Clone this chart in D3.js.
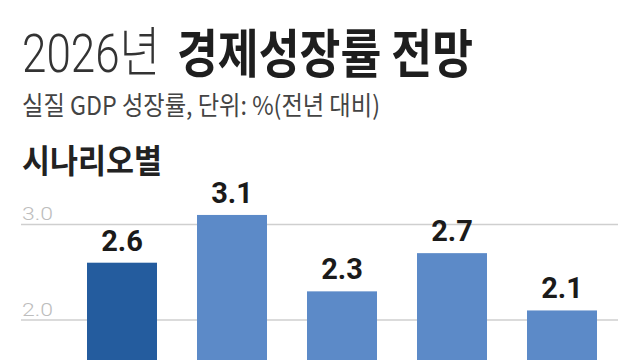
<!DOCTYPE html>
<html><head><meta charset="utf-8">
<script src="https://cdn.jsdelivr.net/npm/d3@7"></script>
<style>
html,body{margin:0;padding:0;background:#fff;}
svg{display:block;}
</style></head>
<body>
<svg id="chart" width="640" height="360"></svg>
<script>
const categories = ["기본", "낙관1", "비관1", "낙관2", "비관2"];
const values = [2.6, 3.1, 2.3, 2.7, 2.1];
const highlight = [true, false, false, false, false];
const tickValues = [2.0, 3.0];
const titleLight = "2026년";
const titleBold = "경제성장률 전망";
const subtitle = "실질 GDP 성장률, 단위: %(전년 대비)";
const sectionTitle = "시나리오별";

const svg = d3.select("#chart");
const W = 640, H = 360;
svg.append("rect").attr("width", W).attr("height", H).attr("fill", "#fff");

const kfont = "'Noto Sans CJK KR', 'Noto Sans', sans-serif";
const nfont = "Roboto, 'Noto Sans CJK KR', sans-serif";

// Title (light part)
svg.append("text").attr("x", 22).attr("y", 72)
  .attr("font-size", 54).attr("font-weight", 300).attr("fill", "#333")
  .attr("font-family", nfont)
  .attr("textLength", 138).attr("lengthAdjust", "spacingAndGlyphs")
  .text(titleLight);
// Title (bold part)
svg.append("text").attr("x", 177).attr("y", 73)
  .attr("font-size", 52).attr("font-weight", 700).attr("fill", "#1e1e1e")
  .attr("font-family", kfont)
  .attr("textLength", 296).attr("lengthAdjust", "spacingAndGlyphs")
  .text(titleBold);

// Subtitle
svg.append("text").attr("x", 22).attr("y", 115)
  .attr("font-size", 26).attr("fill", "#444").attr("font-family", kfont)
  .attr("font-weight", 400)
  .attr("textLength", 358).attr("lengthAdjust", "spacingAndGlyphs")
  .text(subtitle);

// Section title
svg.append("text").attr("x", 22).attr("y", 173)
  .attr("font-size", 33).attr("fill", "#222").attr("font-family", kfont)
  .attr("font-weight", 700)
  .attr("textLength", 140).attr("lengthAdjust", "spacingAndGlyphs")
  .text(sectionTitle);

// Scales
const x = d3.scaleBand().domain(categories).range([67, 617])
  .paddingInner(40 / 110).paddingOuter(20 / 110);
const y = d3.scaleLinear().domain([2, 3]).range([320, 224.5]);

// Gridlines & tick labels
const grid = svg.append("g");
grid.selectAll("line").data(tickValues).join("line")
  .attr("x1", 21).attr("x2", 618)
  .attr("y1", d => y(d)).attr("y2", d => y(d))
  .attr("stroke", "#cfcfcf").attr("stroke-width", 1.5);
grid.selectAll("text").data(tickValues).join("text")
  .attr("x", 22).attr("y", d => y(d) - 4.5)
  .attr("font-size", 18).attr("font-weight", 300)
  .attr("font-family", nfont).attr("fill", "#bdbdbd")
  .attr("textLength", 31).attr("lengthAdjust", "spacingAndGlyphs")
  .text(d => d3.format(".1f")(d));

// Bars
svg.append("g").selectAll("rect").data(values).join("rect")
  .attr("x", (d, i) => x(categories[i]))
  .attr("width", x.bandwidth())
  .attr("y", d => y(d))
  .attr("height", d => y(0) - y(d))
  .attr("fill", (d, i) => highlight[i] ? "#245c9e" : "#5c8ac8");

// Value labels
svg.append("g").selectAll("text").data(values).join("text")
  .attr("x", (d, i) => x(categories[i]) + x.bandwidth() / 2)
  .attr("y", d => y(d) - 12)
  .attr("text-anchor", "middle")
  .attr("font-size", 29).attr("font-weight", 700)
  .attr("font-family", nfont).attr("fill", "#1a1a1a")
  .text(d => d3.format(".1f")(d));
</script>
</body></html>
